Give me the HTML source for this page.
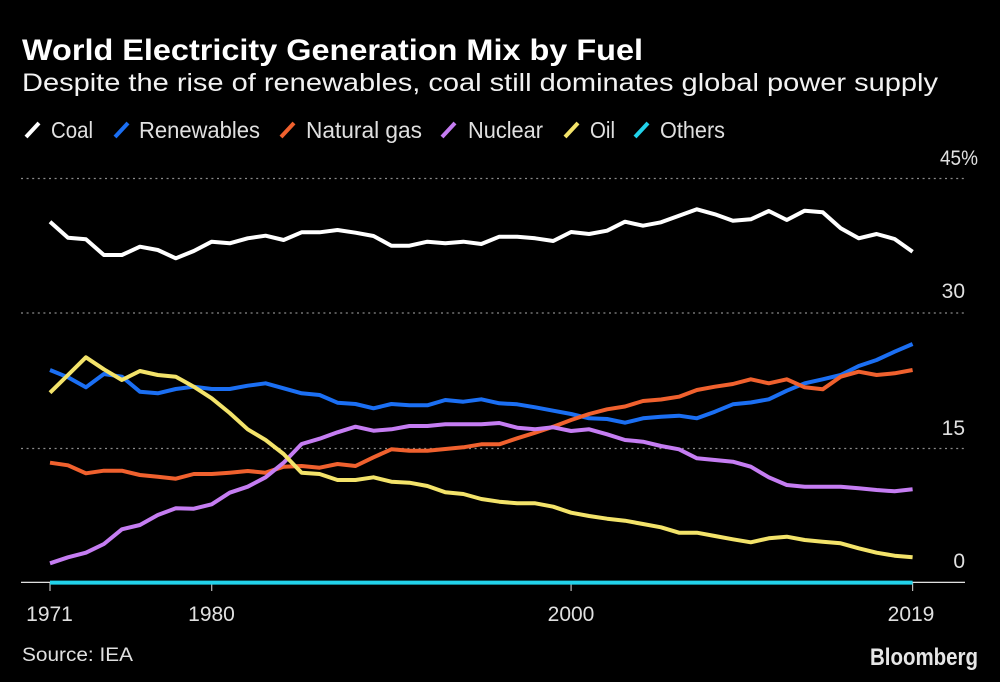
<!DOCTYPE html>
<html><head><meta charset="utf-8"><style>
html,body{margin:0;padding:0;background:#000;}
svg{display:block;}
text{font-family:"Liberation Sans",sans-serif;}
</style></head><body>
<svg width="1000" height="682" viewBox="0 0 1000 682" xmlns="http://www.w3.org/2000/svg">
<rect width="1000" height="682" fill="#000"/>
<text x="22" y="60" font-size="30" font-weight="bold" fill="#fff" textLength="621" lengthAdjust="spacingAndGlyphs">World Electricity Generation Mix by Fuel</text>
<text x="22" y="91" font-size="25" fill="#f2f2f2" textLength="916" lengthAdjust="spacingAndGlyphs">Despite the rise of renewables, coal still dominates global power supply</text>

<g stroke-width="4" stroke-linecap="butt">
<line x1="26" y1="137" x2="39" y2="123" stroke="#ffffff"/>
<line x1="115" y1="137" x2="128" y2="123" stroke="#1b6ff3"/>
<line x1="281" y1="137" x2="294" y2="123" stroke="#f0612e"/>
<line x1="442" y1="137" x2="455" y2="123" stroke="#c57df2"/>
<line x1="565" y1="137" x2="578" y2="123" stroke="#f3e36a"/>
<line x1="635" y1="137" x2="648" y2="123" stroke="#22d2ea"/>
</g>
<g font-size="23" fill="#e0e0e0">
<text x="51" y="138" textLength="42" lengthAdjust="spacingAndGlyphs">Coal</text>
<text x="139" y="138" textLength="121" lengthAdjust="spacingAndGlyphs">Renewables</text>
<text x="306" y="138" textLength="116" lengthAdjust="spacingAndGlyphs">Natural gas</text>
<text x="468" y="138" textLength="75" lengthAdjust="spacingAndGlyphs">Nuclear</text>
<text x="590" y="138" textLength="25" lengthAdjust="spacingAndGlyphs">Oil</text>
<text x="660" y="138" textLength="65" lengthAdjust="spacingAndGlyphs">Others</text>
</g>

<g stroke="#8a8a8a" stroke-width="1.3" stroke-dasharray="2 3.6">
<line x1="21" y1="178.5" x2="965" y2="178.5"/>
<line x1="21" y1="313" x2="965" y2="313"/>
<line x1="21" y1="448.5" x2="965" y2="448.5"/>
</g>
<g font-size="21" fill="#e0e0e0">
<text x="940" y="165" textLength="38" lengthAdjust="spacingAndGlyphs">45%</text>
<text x="965" y="298" text-anchor="end">30</text>
<text x="965" y="435" text-anchor="end">15</text>
<text x="965" y="568" text-anchor="end">0</text>
</g>

<line x1="21" y1="582.3" x2="965" y2="582.3" stroke="#ffffff" stroke-width="1.2"/>
<g stroke="#bbbbbb" stroke-width="1.2">
<line x1="50" y1="583" x2="50" y2="591"/>
<line x1="211.7" y1="583" x2="211.7" y2="591"/>
<line x1="571.1" y1="583" x2="571.1" y2="591"/>
<line x1="912.6" y1="583" x2="912.6" y2="591"/>
</g>
<g font-size="21" fill="#e0e0e0" text-anchor="middle">
<text x="49.5" y="621">1971</text>
<text x="211.5" y="621">1980</text>
<text x="571" y="621">2000</text>
<text x="911" y="621">2019</text>
</g>

<g fill="none" stroke-width="4" stroke-linejoin="round" stroke-linecap="butt">
<polyline stroke="#ffffff" points="50,221.7 68,237.7 85.9,239.3 103.9,255 121.9,255 139.9,246.7 157.8,250 175.8,258.3 193.8,251 211.7,241.7 229.7,243.3 247.7,238.3 265.6,235.7 283.6,240 301.6,232.3 319.6,232.3 337.5,230 355.5,232.7 373.5,236 391.4,245.7 409.4,245.7 427.4,241.7 445.3,243.3 463.3,241.7 481.3,244 499.3,236.7 517.2,236.7 535.2,238.3 553.2,241 571.1,232 589.1,234 607.1,230.7 625,221.7 643,225.7 661,222.3 679,215.7 696.9,209.3 714.9,214.3 732.9,220.7 750.8,219.3 768.8,211 786.8,220 804.7,210.7 822.7,212.3 840.7,228.3 858.7,238.3 876.6,234 894.6,239 912.6,251.7"/>
<polyline stroke="#1b6ff3" points="50,370 68,377.3 85.9,387.3 103.9,374 121.9,376.7 139.9,391.7 157.8,393.3 175.8,389 193.8,386.7 211.7,389 229.7,389 247.7,385.7 265.6,383.3 283.6,388.3 301.6,393.3 319.6,395 337.5,402.7 355.5,404 373.5,408.3 391.4,404 409.4,405.3 427.4,405.3 445.3,400 463.3,401.7 481.3,399.3 499.3,403.3 517.2,404.3 535.2,407.3 553.2,410.7 571.1,414 589.1,418.3 607.1,419 625,422.7 643,418.3 661,416.7 679,415.7 696.9,418.3 714.9,411.7 732.9,404.3 750.8,402.5 768.8,399.3 786.8,390.7 804.7,383.3 822.7,379.3 840.7,375 858.7,366 876.6,360 894.6,351.7 912.6,344"/>
<polyline stroke="#f0612e" points="50,462.7 68,465.3 85.9,473.3 103.9,470.7 121.9,470.7 139.9,475 157.8,476.7 175.8,478.7 193.8,474 211.7,474 229.7,472.7 247.7,471 265.6,472.7 283.6,466.7 301.6,466 319.6,467.7 337.5,464 355.5,466 373.5,457.3 391.4,449.3 409.4,450.7 427.4,450.7 445.3,449 463.3,447.3 481.3,444.3 499.3,444.3 517.2,438.3 535.2,432.7 553.2,426.7 571.1,420 589.1,414 607.1,409.3 625,406.5 643,401 661,399.5 679,396.7 696.9,390 714.9,386.7 732.9,384 750.8,379.3 768.8,383.3 786.8,379.3 804.7,387.3 822.7,389.3 840.7,376.7 858.7,371.7 876.6,375 894.6,373.3 912.6,370"/>
<polyline stroke="#c57df2" points="50,563.3 68,557.3 85.9,552.7 103.9,544 121.9,529.3 139.9,525 157.8,515 175.8,508.3 193.8,508.7 211.7,504.3 229.7,492.7 247.7,486.7 265.6,477.3 283.6,462.7 301.6,444 319.6,438.7 337.5,432.3 355.5,426.7 373.5,430.7 391.4,429.3 409.4,426 427.4,426 445.3,424.3 463.3,424.3 481.3,424.3 499.3,423 517.2,427.7 535.2,429.3 553.2,427.3 571.1,431 589.1,429.3 607.1,434.3 625,440 643,441.7 661,446 679,449.3 696.9,458.3 714.9,460 732.9,461.7 750.8,466.7 768.8,477.3 786.8,485 804.7,486.7 822.7,486.7 840.7,486.7 858.7,488.3 876.6,490 894.6,491.3 912.6,489.3"/>
<polyline stroke="#f3e36a" points="50,392.7 68,375 85.9,357.3 103.9,369.3 121.9,380 139.9,371 157.8,375 175.8,376.7 193.8,386.7 211.7,398.3 229.7,413 247.7,429.3 265.6,440 283.6,454 301.6,472.7 319.6,474 337.5,480 355.5,480 373.5,477.3 391.4,481.7 409.4,482.7 427.4,486 445.3,492.3 463.3,494 481.3,499 499.3,501.7 517.2,503.3 535.2,503.3 553.2,506.7 571.1,512.7 589.1,516 607.1,518.7 625,520.7 643,524 661,527.3 679,532.7 696.9,532.7 714.9,536 732.9,539.3 750.8,542.3 768.8,538.3 786.8,536.7 804.7,540 822.7,541.7 840.7,543.3 858.7,548.3 876.6,552.7 894.6,555.7 912.6,557.3"/>
<line x1="50" y1="582.6" x2="912.6" y2="582.6" stroke="#22d2ea"/>
</g>

<text x="22" y="661" font-size="19" fill="#e0e0e0" textLength="111" lengthAdjust="spacingAndGlyphs">Source: IEA</text>
<text x="870" y="665" font-size="24" font-weight="bold" fill="#e6e6e6" textLength="108" lengthAdjust="spacingAndGlyphs">Bloomberg</text>
</svg>
</body></html>
